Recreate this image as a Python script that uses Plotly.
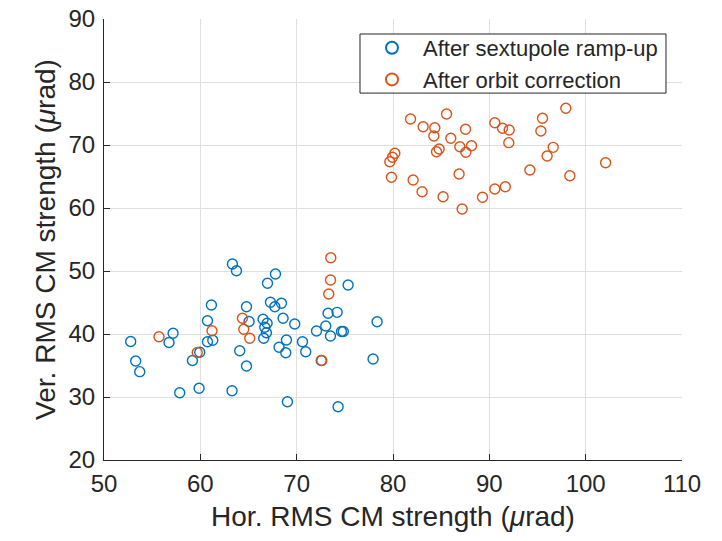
import plotly.graph_objects as go

# After sextupole ramp-up (blue)
blue_x = [52.77, 53.29, 53.71, 57.17, 56.75, 57.86, 59.18, 59.87, 59.94, 60.74,
          61.15, 60.74, 61.29, 63.33, 63.75, 63.29, 64.09, 64.79, 64.79, 65.06,
          66.97, 67.80, 67.28, 67.73, 68.42, 68.59, 69.80, 66.51, 66.93, 66.69,
          66.86, 66.58, 68.94, 68.17, 68.87, 70.60, 70.94, 69.04, 73.26, 74.20,
          73.02, 72.06, 73.51, 74.65, 74.84, 75.34, 78.35, 77.93, 74.30, 72.55]
blue_y = [38.81, 35.71, 34.02, 40.11, 38.65, 30.68, 35.79, 31.38, 37.10, 42.11,
          44.60, 38.78, 39.00, 51.11, 50.05, 31.00, 37.35, 34.92, 44.33, 41.98,
          48.05, 49.52, 45.03, 44.33, 44.87, 42.49, 41.59, 42.33, 41.70, 41.06,
          40.21, 39.32, 39.05, 37.89, 37.03, 38.78, 37.19, 29.25, 43.29, 43.44,
          41.27, 40.48, 39.68, 40.40, 40.40, 47.78, 41.95, 36.03, 28.46, 35.79]

# After orbit correction (orange)
orange_x = [55.71, 59.68, 61.21, 64.37, 64.51, 65.13, 73.54, 73.51, 73.33, 72.61,
            81.82, 83.13, 84.34, 84.24, 85.56, 87.53, 86.00, 86.94, 87.56, 88.15,
            84.52, 84.79, 80.19, 79.95, 79.67, 79.84, 82.09, 83.02, 86.86, 85.20,
            87.18, 89.29, 90.57, 91.66, 90.57, 91.37, 92.06, 92.02, 97.94, 95.52,
            95.35, 96.63, 96.00, 94.21, 98.36, 102.07]
orange_y = [39.57, 37.06, 40.52, 42.49, 40.75, 39.32, 52.11, 48.57, 46.35, 35.79,
            74.13, 72.90, 72.75, 71.43, 74.92, 72.49, 71.06, 69.73, 68.84, 69.89,
            68.94, 69.37, 68.68, 68.05, 67.35, 64.87, 64.44, 62.59, 65.40, 61.79,
            59.84, 61.70, 63.02, 63.38, 73.54, 72.65, 72.38, 70.37, 75.83, 74.24,
            72.22, 69.63, 68.25, 66.03, 65.13, 67.19]

x_ticks = [50, 60, 70, 80, 90, 100, 110]
y_ticks = [20, 30, 40, 50, 60, 70, 80, 90]

BLUE = "#0072BD"
ORANGE = "#D95319"
AX = "#262626"
FONT = "Liberation Sans, Arial, Helvetica, sans-serif"

fig = go.Figure()
fig.add_trace(go.Scatter(
    x=blue_x, y=blue_y, mode="markers", name="After sextupole ramp-up",
    marker=dict(symbol="circle-open", size=10, color=BLUE, line=dict(width=1.4, color=BLUE)),
))
fig.add_trace(go.Scatter(
    x=orange_x, y=orange_y, mode="markers", name="After orbit correction",
    marker=dict(symbol="circle-open", size=10, color=ORANGE, line=dict(width=1.4, color=ORANGE)),
))

axis_common = dict(
    showline=True, linecolor=AX, linewidth=1, mirror=False,
    ticks="inside", ticklen=6, tickcolor=AX, tickwidth=1,
    showgrid=True, gridcolor="#dfdfdf", gridwidth=1,
    zeroline=False, tickfont=dict(family=FONT, size=24, color=AX),
    automargin=False,
)

# legend frame (MATLAB-style tight box)
fig.add_shape(type="rect", xref="paper", yref="paper",
              x0=0.4429, x1=0.9723, y0=0.832, y1=0.966,
              fillcolor="white", line=dict(color=AX, width=1), layer="above")

fig.update_layout(
    width=722, height=541,
    margin=dict(l=104, r=40, t=19, b=81),
    paper_bgcolor="white", plot_bgcolor="white",
    font=dict(family=FONT, color=AX),
    xaxis=dict(range=[50, 110], tickvals=x_ticks, ticklabelstandoff=2,
               title=dict(text="Hor. RMS CM strength (<i>μ</i>rad)",
                          font=dict(family=FONT, size=28, color=AX), standoff=10),
               **axis_common),
    yaxis=dict(range=[20, 90], tickvals=y_ticks, ticklabelstandoff=3,
               title=dict(text="Ver. RMS CM strength (<i>μ</i>rad)",
                          font=dict(family=FONT, size=28, color=AX), standoff=4),
               **axis_common),
    legend=dict(x=0.4446, y=0.9819, xanchor="left", yanchor="top",
                bgcolor="rgba(0,0,0,0)", borderwidth=0,
                font=dict(family=FONT, size=22, color=AX),
                itemwidth=52, itemsizing="constant"),
    showlegend=True,
)

fig.write_html("out.html")
